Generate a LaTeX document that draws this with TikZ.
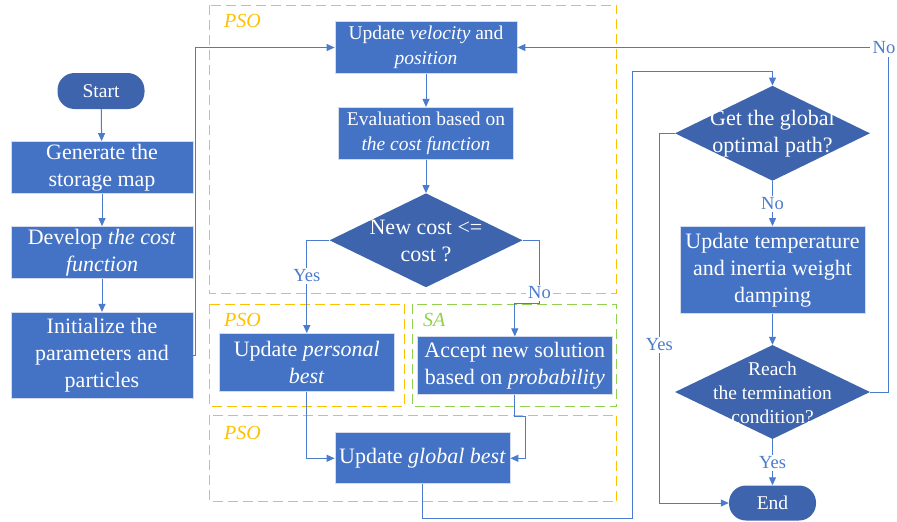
\documentclass[tikz,border=0pt]{standalone}
\usepackage{fontspec}
\setmainfont{Liberation Serif}
\usetikzlibrary{shapes.geometric,arrows.meta}

\definecolor{boxblue}{HTML}{4472C4}
\definecolor{darkblue}{HTML}{3D64AD}
\definecolor{boxedge}{HTML}{D3DBEC}
\definecolor{lineblue}{HTML}{4A7BCC}
\definecolor{psoyellow}{HTML}{FFC000}
\definecolor{sagreen}{HTML}{92D050}

\tikzset{
  bigtext/.style={font=\fontsize{22}{27}\selectfont},
  smalltext/.style={font=\fontsize{19.5}{25.5}\selectfont},
  procbox/.style={rectangle, draw=boxedge, line width=0.8pt, fill=boxblue,
    text=white, align=center, inner sep=0pt},
  pill/.style={rectangle, rounded corners=17pt, fill=darkblue, text=white,
    align=center, inner sep=0pt, smalltext},
  decision/.style={diamond, fill=darkblue, inner sep=0pt},
  dtext/.style={text=white, align=center, inner sep=0pt},
  flow/.style={draw=lineblue, line width=1pt, -{Triangle[length=8pt,width=7pt]}},
  region/.style={dash pattern=on 10pt off 5pt, line width=0.9pt},
  tag/.style={font=\fontsize{18.5}{20}\selectfont, text=lineblue, fill=white,
    inner sep=2pt},
  grouplabel/.style={font=\itshape\fontsize{20}{22}\selectfont, anchor=west,
    inner sep=0pt}
}

\begin{document}
\begin{tikzpicture}[x=1pt,y=-1pt]
\useasboundingbox (0,0) rectangle (897,522);

% dashed algorithm regions
\draw[region, psoyellow] (209.3,5) rectangle (616.7,293.3);
\draw[region, psoyellow] (209.3,304) rectangle (404.3,406.7);
\draw[region, sagreen]   (412.3,304) rectangle (616.7,406.7);
\draw[region, psoyellow] (209.3,415) rectangle (616.7,501.7);
\node[grouplabel, text=psoyellow] (lpso1) at (224,20.5) {PSO};
\node[grouplabel, text=psoyellow] (lpso2) at (224,319.5) {PSO};
\node[grouplabel, text=sagreen]   (lsa)   at (423,319.5) {SA};
\node[grouplabel, text=psoyellow] (lpso3) at (224,432.5) {PSO};

% initialisation column
\node[pill, minimum width=87pt, minimum height=36pt] (start) at (101,91) {Start};
\node[procbox, bigtext, minimum width=182pt, minimum height=52pt] (gen) at (102,167.5)
  {Generate the\\storage map};
\node[procbox, bigtext, minimum width=182pt, minimum height=52pt] (dev) at (102,252.5)
  {Develop \textit{the cost}\\\textit{function}};
\node[procbox, bigtext, minimum width=182pt, minimum height=86pt] (init) at (102,355.3)
  {Initialize the\\parameters and\\particles};

% PSO / SA loop body
\node[procbox, smalltext, minimum width=182pt, minimum height=52pt] (vel) at (426,47.5)
  {Update \textit{velocity} and\\\textit{position}};
\node[procbox, smalltext, minimum width=175pt, minimum height=52pt] (eval) at (426,133.3)
  {Evaluation based on\\\textit{the cost function}};
\node[decision, minimum width=193pt, minimum height=94pt] (cmp) at (426,240.3) {};
\node[dtext, bigtext] (cmptxt) at (426,241) {New cost <=\\cost ?};
\node[procbox, bigtext, minimum width=175pt, minimum height=58pt] (pbest) at (306.8,362.5)
  {Update \textit{personal}\\\textit{best}};
\node[procbox, bigtext, minimum width=195pt, minimum height=58pt] (accept) at (514.8,365.8)
  {Accept new solution\\based on \textit{probability}};
\node[procbox, bigtext, minimum width=175pt, minimum height=51pt] (gbest) at (422.5,458.3)
  {Update \textit{global best}};

% termination column
\node[decision, minimum width=195pt, minimum height=95pt] (getpath) at (772.5,133.3) {};
\node[dtext, bigtext] (getpathtxt) at (772.5,133.7) {Get the global\\optimal path?};
\node[procbox, bigtext, minimum width=185pt, minimum height=87pt] (temp) at (772.5,270)
  {Update temperature\\and inertia weight\\damping};
\node[decision, minimum width=195pt, minimum height=94pt] (reach) at (772.5,392) {};
\node[dtext, font=\fontsize{19.5}{23.7}\selectfont] (reachtxt) at (772.5,393)
  {Reach\\the termination\\condition?};
\node[pill, minimum width=87pt, minimum height=35pt] (endn) at (772.5,503) {End};

% connectors
\draw[flow] (start) -- (gen);
\draw[flow] (gen) -- (dev);
\draw[flow] (dev) -- (init);
\draw[flow] (init.east) -- ++(2.3,0) |- (vel.west);
\draw[flow] (vel) -- (eval);
\draw[flow] (eval) -- (cmp.north);
\draw[flow] (cmp.west) -| (pbest.north);
\draw[flow] (cmp.east) -- (539,240.3) -- (539,303) -| (accept.north);
\draw[flow] (pbest.south) |- (gbest.west);
\draw[flow] (accept.south) |- (525,416.7) |- (gbest.east);
\draw[flow] (gbest.south) |- (632.7,518.3) |- (772.5,71.7) -- (getpath.north);
\draw[flow] (getpath.south) -- (temp.north);
\draw[flow] (getpath.west) -- (659.3,133.3) |- (endn.west);
\draw[flow] (temp.south) -- (reach.north);
\draw[flow] (reach.south) -- (endn.north);
\draw[flow] (reach.east) -- (888.3,392) |- (vel.east);

% branch labels
\node[tag] (yes1) at (306.8,276) {Yes};
\node[tag] (no1) at (539.5,293) {No};
\node[tag] (no2) at (772.5,204) {No};
\node[tag] (yes2) at (659.3,345) {Yes};
\node[tag] (yes3) at (772.5,463) {Yes};
\node[tag, inner sep=3pt] (no3) at (884,48) {No};
\end{tikzpicture}
\end{document}
